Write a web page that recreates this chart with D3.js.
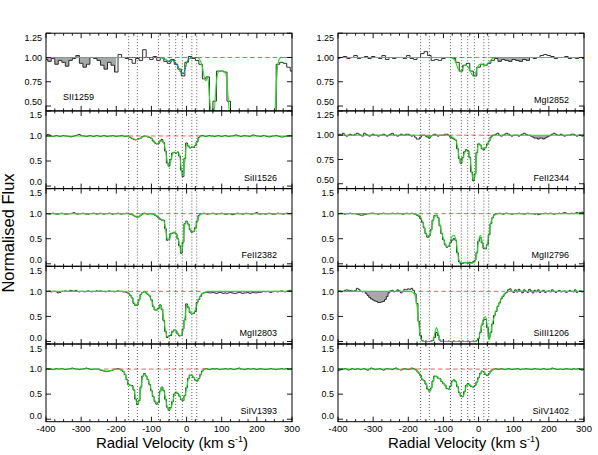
<!DOCTYPE html>
<html><head><meta charset="utf-8">
<script src="https://cdn.jsdelivr.net/npm/d3@7"></script>
<style>body{margin:0;background:#fff;} svg{display:block;}</style>
</head><body>
<svg id="chart" width="598" height="455"></svg>
<script>
// ---------------- DATA ----------------
const velocityTicks = [-400, -300, -200, -100, 0, 100, 200, 300];
const componentVelocities = [-165, -140, -80, -49, -31, -12, 15, 29];
const yTicksSmall = [0.5, 0.75, 1.0, 1.25];
const yTickLabelsSmall = ["0.50", "0.75", "1.00", "1.25"];
const yTicksLarge = [0, 0.5, 1.0, 1.5];
const yTickLabelsLarge = ["0.0", "0.5", "1.0", "1.5"];
const continuumLevel = 1.0;

// data: SII1259 and MgI2852 on a 10 km/s grid from -400; others 5 km/s grid from -400
const dataSII1259 = [
0.98,0.96,0.99,0.93,0.97,0.95,0.91,0.97,0.99,1.02,
0.94,0.90,0.93,1.00,0.99,0.97,0.92,0.88,0.95,0.92,
0.85,1.03,1.00,0.99,0.98,0.94,0.99,0.97,1.08,1.00,
0.98,1.01,0.97,1.00,0.96,0.94,0.98,0.93,0.88,0.81,
0.95,1.01,0.99,0.97,0.93,0.78,0.80,0.40,0.55,0.86,
0.86,0.85,0.55,0.20,0.20,0.20,0.20,0.20,0.20,0.20,
0.20,0.20,0.20,0.20,0.20,0.35,0.93,0.95,0.94,0.90,
0.86];
const modelSII1259 = [ // from -250 to 300, 5 km/s
1,1,1,1,1,1,1,1,1,1,
1,1,1,1,1,1,1,1,1,1,
1,1,1,1,1,1,1,1,1,1,
1,1,1,1,
1,1,0.995,0.99,0.98,0.97,0.96,0.96,0.97,0.96,
0.94,0.91,0.87,0.84,0.83,0.87,0.94,0.98,0.99,1,
1,1,1,0.99,0.96,0.9,0.8,0.76,0.8,0.6,
0.42,0.35,0.5,0.75,0.85,0.86,0.86,0.86,0.85,0.75,
0.5,0.3,
0.1,0.1,0.1,0.1,0.1,0.1,0.1,0.1,0.1,0.1,0.1,0.1,
0.1,0.1,0.1,0.1,0.1,0.1,0.1,0.1,0.1,0.1,0.1,0.1,
0.3,0.7,0.93,0.99,
1,1,1,1,1,1,1];

const dataSiII1526 = [
1.01,1.03,1.02,1.00,0.99,1.00,1.01,1.00,0.99,1.00,
1.01,1.00,1.00,0.99,0.98,0.99,1.00,1.01,1.02,1.03,
1.01,1.00,1.00,0.99,1.00,1.01,1.00,0.99,1.00,1.01,
1.00,0.99,1.00,1.01,1.00,0.99,1.00,1.00,1.01,1.00,
0.99,1.00,1.00,1.01,1.00,0.99,1.00,0.99,0.97,0.95,
0.93,0.92,0.93,0.95,0.96,0.99,1.00,0.99,0.98,0.97,
0.95,0.90,0.86,0.84,0.85,0.90,0.93,0.87,0.70,0.46,
0.40,0.53,0.66,0.67,0.66,0.68,0.60,0.32,0.19,0.55,
0.86,0.80,0.76,0.78,0.77,0.81,0.88,0.97,1.00,1.01,
1.00,0.99,1.00,1.01,1.00,1.00,0.99,1.00,1.01,1.00,
0.99,
1.00,1.01,1.00,0.99,1.00,1.00,1.01,1.02,1.01,1.00,
0.99,1.00,1.01,1.00,1.00,0.99,1.01,1.02,1.01,1.00,
1.00,0.99,1.00,1.01,1.00,0.99,0.98,0.99,1.00,1.00,
1.01,1.00,0.99,0.98,0.98,0.99,1.00,1.00,1.01,1.00];
const modelSiII1526 = [
1,1,1,1,1,1,1,1,1,1,
1,1,1,1,1,1,1,0.99,0.98,0.96,
0.94,0.93,0.93,0.94,0.96,0.98,0.99,0.99,0.99,0.98,
0.96,0.92,0.87,0.85,0.86,0.89,0.9,0.86,0.72,0.5,
0.38,0.5,0.64,0.68,0.67,0.67,0.62,0.35,0.2,0.5,
0.84,0.81,0.77,0.77,0.78,0.82,0.9,0.96,0.99,1,
1,1,1,1,1,1,1,1,1,1,1];

const dataFeII2382 = [
1.00,1.00,0.99,1.00,1.01,1.00,0.99,0.99,1.00,1.01,
1.00,0.99,0.99,1.00,1.00,1.01,1.02,1.00,0.99,1.00,
1.00,1.01,1.00,0.99,0.99,1.00,1.00,1.01,1.00,0.99,
1.00,1.01,1.00,0.99,1.00,1.00,1.01,1.00,0.99,1.00,
1.00,1.01,1.00,0.99,1.00,1.00,1.01,1.00,0.99,0.98,
0.96,0.94,0.93,0.94,0.97,1.00,1.01,1.00,0.99,1.00,
1.00,0.99,0.97,0.95,0.92,0.89,0.87,0.87,0.70,0.47,
0.49,0.60,0.61,0.63,0.60,0.50,0.36,0.21,0.43,0.80,
0.85,0.79,0.68,0.63,0.65,0.72,0.85,0.96,1.00,1.00,
1.01,1.00,0.99,1.00,1.00,1.01,1.00,0.99,1.00,1.00,
1.01,
1.00,0.99,0.99,1.00,1.00,0.98,0.99,1.00,1.01,1.00,
1.00,0.99,1.00,1.01,1.00,1.00,0.99,1.00,1.01,1.02,
1.00,0.99,1.00,1.00,0.99,1.00,1.01,1.00,0.99,0.99,
1.00,1.01,1.00,1.00,0.99,1.00,1.01,1.00,1.00,1.01];
const modelFeII2382 = [
1,1,1,1,1,1,1,1,1,1,
1,1,1,1,1,1,1,1,0.995,0.99,
0.97,0.95,0.94,0.95,0.97,0.99,1,1,1,1,
0.99,0.99,0.98,0.96,0.93,0.9,0.88,0.86,0.72,0.5,
0.48,0.58,0.62,0.62,0.61,0.52,0.38,0.22,0.4,0.78,
0.84,0.8,0.7,0.64,0.64,0.7,0.84,0.95,0.99,1,
1,1,1,1,1,1,1,1,1,1,1];

const dataMgII2803 = [
1.00,1.00,1.01,0.99,1.00,1.00,0.99,0.97,0.98,1.00,
1.00,1.01,1.00,1.00,1.02,1.01,1.00,1.02,1.00,0.99,
1.00,1.00,0.99,1.00,1.01,1.00,0.99,1.00,1.00,1.01,
1.00,1.01,1.00,1.00,0.99,1.00,1.01,1.00,1.00,0.99,
1.00,1.01,1.00,1.00,0.99,0.99,0.98,0.96,0.92,0.87,
0.76,0.72,0.73,0.83,0.94,0.98,1.00,0.97,0.94,0.91,
0.83,0.70,0.63,0.63,0.66,0.73,0.64,0.42,0.20,0.08,
0.11,0.12,0.20,0.23,0.21,0.15,0.11,0.12,0.25,0.43,
0.75,0.68,0.58,0.55,0.56,0.60,0.78,0.84,0.90,0.95,
0.97,0.98,0.98,0.97,0.97,0.98,0.97,0.96,0.97,0.98,
0.97,
0.96,0.97,0.96,0.97,0.98,0.97,0.96,0.96,0.97,0.98,
0.97,0.96,0.97,0.97,0.98,0.96,0.97,0.98,0.97,0.97,
0.98,0.98,0.99,1.00,0.99,1.00,0.99,0.98,0.99,1.00,
1.00,0.99,1.00,1.01,1.00,0.99,1.00,1.01,1.02,1.00];
const modelMgII2803 = [
1,1,1,1,1,1,1,1,1,1,
1,1,1,1,1,1,0.99,0.97,0.93,0.86,
0.78,0.73,0.74,0.82,0.93,0.98,0.99,0.98,0.95,0.9,
0.82,0.72,0.64,0.62,0.66,0.72,0.66,0.45,0.22,0.1,
0.1,0.14,0.18,0.22,0.22,0.17,0.12,0.12,0.22,0.45,
0.72,0.7,0.6,0.56,0.57,0.63,0.75,0.85,0.92,0.96,
0.98,0.99,1,1,1,1,1,1,1,1,1];

const dataSiIV1393 = [
1.00,1.01,1.00,1.00,0.99,1.00,1.01,1.00,1.00,1.01,
1.00,0.99,1.00,1.00,1.01,1.02,1.01,1.00,1.00,0.99,
1.00,1.00,1.01,1.02,1.01,1.00,0.99,1.00,1.00,1.00,
1.00,0.98,0.97,0.96,0.95,0.95,0.96,0.97,0.98,1.00,
1.00,1.01,1.00,0.98,0.95,0.89,0.79,0.69,0.68,0.67,
0.58,0.40,0.29,0.37,0.64,0.86,0.91,0.86,0.79,0.69,
0.57,0.45,0.35,0.30,0.33,0.56,0.64,0.57,0.40,0.24,
0.18,0.23,0.35,0.50,0.54,0.51,0.46,0.39,0.37,0.47,
0.63,0.81,0.88,0.87,0.83,0.78,0.76,0.81,0.89,0.96,
1.00,1.01,1.00,0.99,1.00,1.01,1.00,1.01,1.00,0.99,
1.00,
1.00,1.01,1.00,1.00,1.01,1.00,0.99,1.00,1.01,1.02,
1.00,1.00,0.99,1.00,1.01,1.00,1.00,1.01,1.00,0.99,
1.00,1.01,1.00,1.00,0.99,1.00,1.00,1.01,1.00,1.00,
0.99,1.00,1.00,1.01,1.00,1.00,1.01,1.00,1.00,1.01];
const modelSiIV1393 = [
1,0.99,0.98,0.97,0.96,0.96,0.96,0.97,0.98,0.99,
0.99,1,0.99,0.98,0.96,0.9,0.8,0.7,0.67,0.66,
0.6,0.42,0.3,0.38,0.62,0.84,0.9,0.87,0.8,0.7,
0.58,0.46,0.37,0.32,0.34,0.55,0.63,0.58,0.42,0.25,
0.19,0.22,0.33,0.48,0.53,0.52,0.47,0.4,0.38,0.46,
0.62,0.8,0.87,0.88,0.84,0.79,0.77,0.8,0.88,0.95,
0.99,1,1,1,1,1,1,1,1,1,1];

const dataMgI2852 = [
0.99,1.00,1.01,0.99,1.00,1.02,0.99,1.00,1.01,0.99,
1.01,1.00,0.99,1.02,0.98,1.00,0.99,1.00,1.00,0.99,
1.02,0.99,0.98,1.00,1.04,1.06,1.02,0.97,0.98,0.97,
0.99,1.00,1.00,0.99,0.95,0.86,0.92,0.94,0.86,0.81,
0.90,0.93,0.92,0.94,0.97,0.99,0.96,0.98,0.97,0.96,
0.98,0.97,0.96,0.98,0.97,1.00,0.99,1.00,1.02,1.03,
1.02,1.01,0.99,1.00,1.00,1.01,0.99,1.00,0.99,1.00,
0.99];
const modelMgI2852 = [
1,1,1,1,1,1,1,1,1,1,
1,1,1,1,1,1,1,1,1,1,
1,1,1,1,1,1,1,1,1,1,
1,1,1,1,1,0.995,0.98,0.95,0.9,0.86,
0.86,0.89,0.92,0.92,0.9,0.87,0.83,0.81,0.82,0.88,
0.92,0.93,0.93,0.92,0.92,0.93,0.95,0.97,0.99,1,
1,1,1,1,1,1,1,1,1,1,1];

const dataFeII2344 = [
1.00,1.01,1.00,1.02,1.00,0.99,1.00,1.01,1.00,1.00,
1.01,1.02,1.01,1.00,0.99,1.02,1.01,1.00,0.99,1.00,
1.01,1.00,1.00,0.99,1.00,1.00,1.01,1.00,0.99,1.00,
1.01,1.02,1.00,1.00,0.99,1.00,1.01,1.00,1.00,1.01,
1.01,1.00,0.99,1.00,0.98,0.96,0.96,0.98,1.00,1.00,
0.99,0.98,0.97,0.99,1.00,1.01,1.00,0.99,1.00,1.00,
1.00,1.01,1.01,1.00,0.98,0.97,0.96,0.95,0.86,0.76,
0.71,0.77,0.83,0.85,0.84,0.77,0.62,0.53,0.60,0.82,
0.91,0.90,0.86,0.85,0.87,0.91,0.94,0.98,1.00,1.00,
1.01,1.02,1.00,0.99,1.00,1.01,1.02,1.01,1.00,0.99,
1.00,
1.00,1.00,0.99,1.00,1.01,1.02,1.01,1.00,1.00,0.99,
0.98,0.97,0.97,0.96,0.97,0.97,0.96,0.97,0.98,0.99,
1.00,1.01,1.02,1.01,1.00,1.00,1.01,1.00,0.99,1.00,
1.00,1.00,1.01,1.01,1.00,0.99,1.00,1.00,0.99,1.00];
const modelFeII2344 = [
1,1,1,1,1,1,1,1,1,1,
1,1,1,1,1,1,1,1,1,1,
1,0.99,0.985,0.99,1,1,1,1,1,1,
1,1,1,1,0.99,0.98,0.97,0.95,0.88,0.77,
0.72,0.76,0.82,0.84,0.83,0.78,0.64,0.54,0.58,0.8,
0.92,0.9,0.87,0.86,0.87,0.9,0.94,0.97,0.99,1,
1,1,1,1,1,1,1,1,1,1,1];

const dataMgII2796 = [
1.00,1.00,1.01,1.00,0.99,1.00,1.00,1.01,1.00,1.00,
1.00,0.99,0.98,0.97,0.97,0.98,0.99,1.00,1.00,1.01,
1.01,1.00,1.00,0.99,1.00,1.00,1.01,1.00,1.00,1.00,
1.00,1.01,1.00,1.00,1.01,1.00,1.00,0.99,1.00,1.01,
1.00,1.00,1.01,1.00,0.99,0.97,0.95,0.90,0.83,0.72,
0.60,0.53,0.56,0.68,0.87,0.96,0.97,0.92,0.76,0.60,
0.48,0.38,0.33,0.35,0.42,0.47,0.50,0.47,0.22,0.04,
0.00,0.01,0.02,0.02,0.01,0.03,0.02,0.04,0.07,0.22,
0.45,0.52,0.42,0.31,0.30,0.38,0.58,0.80,0.92,0.98,
1.00,1.00,1.01,1.00,0.99,1.00,1.01,1.00,1.00,0.99,
1.00,
1.00,1.00,1.01,1.00,1.00,0.99,1.00,1.01,1.00,1.00,
1.00,0.99,1.00,0.98,0.99,1.00,1.00,1.01,1.00,1.00,
1.01,1.00,0.99,1.00,1.00,1.01,1.00,1.01,1.02,1.01,
1.00,1.00,1.01,1.00,1.01,1.02,1.01,1.02,1.03,1.02];
const modelMgII2796 = [
1,1,1,1,1,1,1,1,1,1,
1,1,1,1,1,0.99,0.97,0.93,0.85,0.74,
0.62,0.55,0.55,0.66,0.85,0.95,0.96,0.93,0.78,0.62,
0.5,0.4,0.34,0.36,0.45,0.55,0.57,0.5,0.25,0.06,
0.02,0.02,0.03,0.03,0.02,0.01,0.01,0.02,0.05,0.2,
0.45,0.57,0.45,0.32,0.31,0.4,0.6,0.82,0.93,0.97,
0.99,1,1,1,1,1,1,1,1,1,1];

const dataSiIII1206 = [
1.00,1.01,0.99,1.00,1.02,1.03,1.02,1.02,1.01,1.00,
1.02,1.06,1.04,1.00,0.99,1.00,0.96,0.92,0.88,0.85,
0.83,0.81,0.80,0.78,0.78,0.79,0.80,0.84,0.90,0.97,
1.01,1.02,0.99,1.00,1.03,1.01,0.97,1.00,1.04,1.03,
1.05,1.04,1.06,1.02,0.95,0.76,0.40,0.12,0.02,0.00,
0.01,0.00,0.00,0.01,0.02,0.08,0.18,0.12,0.03,0.00,
0.01,0.00,0.00,0.01,0.00,0.00,0.01,0.00,0.00,0.01,
0.00,0.01,0.00,0.00,0.01,0.00,0.00,0.01,0.00,0.02,
0.06,0.18,0.33,0.43,0.44,0.28,0.08,0.18,0.35,0.52,
0.60,0.70,0.77,0.85,0.90,0.95,0.98,1.03,1.05,1.00,
0.98,
1.03,0.99,1.04,1.00,0.97,1.03,1.00,0.98,1.04,1.01,
0.97,1.02,0.99,1.03,0.98,1.00,1.02,0.98,1.00,1.01,
0.99,1.03,1.00,0.98,1.00,1.02,0.99,1.00,1.01,0.98,
1.00,1.02,1.00,0.99,1.03,0.98,1.00,1.01,0.99,1.00];
const modelSiIII1206 = [
1,1,1,1,1,1,1,1,1,1,
1,1,0.99,0.97,0.9,0.7,0.35,0.08,0.01,0,
0,0,0,0,0.02,0.15,0.28,0.18,0.03,0,
0,0,0,0,0,0,0,0,0,0,
0,0,0,0,0,0,0,0,0,0.01,
0.05,0.2,0.36,0.46,0.5,0.3,0.03,0.2,0.38,0.5,
0.62,0.7,0.78,0.87,0.92,0.96,0.99,1,1,1,1];

const dataSiIV1402 = [
0.97,0.98,0.99,1.00,1.01,1.00,0.98,0.99,1.01,1.00,
0.99,1.01,1.00,0.99,1.00,1.01,0.99,0.98,1.00,1.02,
1.01,0.99,1.00,1.00,1.01,0.99,0.98,1.00,1.01,1.00,
1.00,0.99,1.01,1.02,1.00,0.99,0.98,1.00,1.01,1.00,
0.99,1.00,1.02,1.01,0.99,0.96,0.92,0.87,0.79,0.77,
0.70,0.60,0.56,0.62,0.76,0.86,0.85,0.82,0.81,0.75,
0.71,0.68,0.61,0.60,0.66,0.76,0.78,0.75,0.65,0.53,
0.46,0.45,0.55,0.67,0.71,0.68,0.65,0.64,0.67,0.74,
0.83,0.91,0.96,0.94,0.89,0.87,0.91,0.96,0.99,1.00,
1.01,0.99,1.00,1.01,1.00,0.99,1.00,1.01,1.00,0.99,
1.00,
1.00,1.01,1.00,0.99,1.00,1.00,1.01,1.00,1.00,0.99,
1.00,1.01,1.00,1.00,0.99,1.00,1.01,1.00,0.99,1.00,
1.00,1.02,1.01,1.00,0.99,1.00,1.00,0.99,1.00,1.01,
1.00,1.00,0.99,1.01,1.00,1.00,1.01,0.99,0.98,0.99];
const modelSiIV1402 = [
1,1,1,1,1,0.995,0.99,1,1,1,
1,1,1,1,1,0.97,0.93,0.86,0.8,0.76,
0.72,0.62,0.55,0.6,0.74,0.85,0.86,0.83,0.8,0.76,
0.72,0.67,0.62,0.61,0.65,0.74,0.79,0.76,0.66,0.54,
0.47,0.45,0.53,0.66,0.7,0.69,0.66,0.65,0.66,0.72,
0.82,0.9,0.95,0.95,0.9,0.88,0.9,0.95,0.98,1,
1,1,1,1,1,1,1,1,1,1,1];

// fitted velocity range (red dashed), excluded/blended ranges (grey)
const ionNames = ["SII1259","SiII1526","FeII2382","MgII2803","SiIV1393",
                  "MgI2852","FeII2344","MgII2796","SiIII1206","SiIV1402"];
const redRanges = [[-75,300],[-165,40],[-165,40],[-165,45],[-235,60],
                   [-75,45],[-170,45],[-170,45],[-170,75],[-222,65]];
const greyRanges = [[-400,-195],null,null,null,null,
                    [45,150],[155,205],null,[-325,-255],null];
const sIIRange = [-170, 30];

// ---------------- LAYOUT ----------------
const W = 598, H = 455;
const xDomain = [-400, 300];
const colRanges = [[46, 292], [338, 584]];
const top0 = 33.2, panelH = 77.7;
const font = "'Liberation Sans', Arial, Helvetica, sans-serif";

const seriesLookup = {
  SII1259:[dataSII1259,10,modelSII1259], SiII1526:[dataSiII1526,5,modelSiII1526],
  FeII2382:[dataFeII2382,5,modelFeII2382], MgII2803:[dataMgII2803,5,modelMgII2803],
  SiIV1393:[dataSiIV1393,5,modelSiIV1393], MgI2852:[dataMgI2852,10,modelMgI2852],
  FeII2344:[dataFeII2344,5,modelFeII2344], MgII2796:[dataMgII2796,5,modelMgII2796],
  SiIII1206:[dataSiIII1206,5,modelSiIII1206], SiIV1402:[dataSiIV1402,5,modelSiIV1402]
};
const panels = ionNames.map((name, i) => {
  const s = seriesLookup[name];
  const col = i < 5 ? 0 : 1, row = i % 5;
  const small = (name === "SII1259" || name === "MgI2852" || name === "FeII2344");
  return {name, col, row, small, data: s[0], dStep: s[1], model: s[2],
          red: redRanges[i], grey: greyRanges[i]};
});

const svg = d3.select("#chart");
svg.append("rect").attr("width", W).attr("height", H).attr("fill", "#fff");
const defs = svg.append("defs");

panels.forEach((p, idx) => {
  const [x0, x1] = colRanges[p.col];
  const top = top0 + p.row * panelH, bottom = top + panelH;
  const x = d3.scaleLinear().domain(xDomain).range([x0, x1]);
  const y = d3.scaleLinear().domain(p.small ? [0.45, 1.25] : [-0.05, 1.5]).range([bottom, top]);

  const clipId = "clip" + idx;
  defs.append("clipPath").attr("id", clipId).append("rect")
    .attr("x", x0).attr("y", top).attr("width", x1 - x0).attr("height", panelH);
  const g = svg.append("g").attr("clip-path", `url(#${clipId})`);

  const dataPts = p.data.map((f, i) => ({v: xDomain[0] + i * p.dStep, f}));
  const mStart = -250;
  let modelPts = p.model.map((f, i) => ({v: mStart + i * 5, f}));
  const mEnd = modelPts[modelPts.length - 1].v;
  if (mStart > xDomain[0]) modelPts = [{v: xDomain[0], f: continuumLevel}].concat(modelPts);
  if (mEnd < xDomain[1]) modelPts = modelPts.concat([{v: xDomain[1], f: continuumLevel}]);

  if (p.grey) {
    const gp = dataPts.filter(d => d.v >= p.grey[0] && d.v <= p.grey[1]);
    g.append("path").datum(gp)
      .attr("d", d3.area().curve(d3.curveStep).x(d => x(d.v)).y0(y(continuumLevel)).y1(d => y(d.f)))
      .attr("fill", "#a8a8a8").attr("stroke", "none");
  }
  g.append("path").datum(dataPts)
    .attr("d", d3.line().curve(d3.curveStep).x(d => x(d.v)).y(d => y(d.f)))
    .attr("fill", "none").attr("stroke", "#1a1a1a").attr("stroke-width", 0.9);
  g.append("path").datum(modelPts)
    .attr("d", d3.line().curve(d3.curveMonotoneX).x(d => x(d.v)).y(d => y(d.f)))
    .attr("fill", "none").attr("stroke", "#22dd22").attr("stroke-width", 1.1);
  if (p.name === "SII1259") {
    const bp = modelPts.filter(d => d.v >= sIIRange[0] && d.v <= sIIRange[1]);
    g.append("path").datum(bp)
      .attr("d", d3.line().curve(d3.curveMonotoneX).x(d => x(d.v)).y(d => y(d.f)))
      .attr("fill", "none").attr("stroke", "#2030ff").attr("stroke-width", 1.1)
      .attr("stroke-dasharray", "1,1.5");
  }
  g.append("line").attr("x1", x(p.red[0])).attr("x2", x(p.red[1]))
    .attr("y1", y(continuumLevel)).attr("y2", y(continuumLevel))
    .attr("stroke", "#ff5a5a").attr("stroke-width", 1).attr("stroke-dasharray", "4.5,3");
  componentVelocities.forEach(v => {
    g.append("line").attr("x1", x(v)).attr("x2", x(v)).attr("y1", top).attr("y2", bottom)
      .attr("stroke", "#333").attr("stroke-width", 0.8).attr("stroke-dasharray", "1,2");
  });

  const fg = svg.append("g");
  fg.append("rect").attr("x", x0).attr("y", top).attr("width", x1 - x0).attr("height", panelH)
    .attr("fill", "none").attr("stroke", "#000").attr("stroke-width", 1);
  d3.range(xDomain[0], xDomain[1] + 1, 25).forEach(v => {
    const len = (v % 100 === 0) ? 5 : 2.5;
    fg.append("line").attr("x1", x(v)).attr("x2", x(v)).attr("y1", bottom).attr("y2", bottom - len)
      .attr("stroke", "#000").attr("stroke-width", 0.9);
    fg.append("line").attr("x1", x(v)).attr("x2", x(v)).attr("y1", top).attr("y2", top + len)
      .attr("stroke", "#000").attr("stroke-width", 0.9);
  });
  const yt = p.small ? yTicksSmall : yTicksLarge;
  const ytl = p.small ? yTickLabelsSmall : yTickLabelsLarge;
  yt.forEach((t, i) => {
    fg.append("line").attr("x1", x0).attr("x2", x0 + 5).attr("y1", y(t)).attr("y2", y(t))
      .attr("stroke", "#000").attr("stroke-width", 0.9);
    fg.append("line").attr("x1", x1).attr("x2", x1 - 5).attr("y1", y(t)).attr("y2", y(t))
      .attr("stroke", "#000").attr("stroke-width", 0.9);
    const shift = (i === yt.length - 1) ? 4.3 : (i === 0 ? -3.8 : 0);
    fg.append("text").attr("x", x0 - 4).attr("y", y(t) + 3.2 + shift)
      .attr("text-anchor", "end").attr("font-family", font).attr("font-size", 9)
      .attr("fill", "#000").text(ytl[i]);
  });
  if (p.row === 4) {
    velocityTicks.forEach(v => {
      fg.append("text").attr("x", x(v)).attr("y", bottom + 10.5)
        .attr("text-anchor", "middle").attr("font-family", font).attr("font-size", 9.5)
        .attr("fill", "#000").text(v);
    });
    const t = fg.append("text").attr("x", (x0 + x1) / 2 + 3).attr("y", 448)
      .attr("text-anchor", "middle").attr("font-family", font).attr("font-size", 15).attr("fill", "#000");
    t.append("tspan").text("Radial Velocity (km s");
    t.append("tspan").attr("dy", -6).attr("font-size", 9).text("-1");
    t.append("tspan").attr("dy", 6).text(")");
  }
  if (p.name === "SII1259") {
    fg.append("text").attr("x", x0 + 17).attr("y", bottom - 11)
      .attr("font-family", font).attr("font-size", 9).attr("fill", "#000").text(p.name);
  } else {
    fg.append("text").attr("x", x1 - 15).attr("y", bottom - 8).attr("text-anchor", "end")
      .attr("font-family", font).attr("font-size", 9).attr("fill", "#000").text(p.name);
  }
});

svg.append("text").attr("transform", "translate(14,233) rotate(-90)")
  .attr("text-anchor", "middle").attr("font-family", font).attr("font-size", 16.5)
  .attr("fill", "#000").text("Normalised Flux");
</script>
</body></html>
